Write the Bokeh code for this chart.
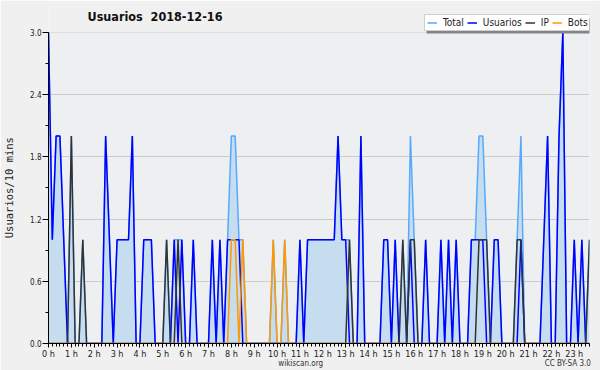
from bokeh.plotting import figure
from bokeh.models import (Range1d, FixedTicker, PrintfTickFormatter, Legend,
                          LegendItem, LinearAxis, Label, BoxAnnotation, ColumnDataSource)
from bokeh.embed import file_html
from bokeh.resources import INLINE

# 10-minute slots of the day, 0:00 .. 23:40
slots = list(range(143))
hour_ticks = slots[::6]
hour_labels = ["0 h", "1 h", "2 h", "3 h", "4 h", "5 h", "6 h", "7 h", "8 h", "9 h",
               "10 h", "11 h", "12 h", "13 h", "14 h", "15 h", "16 h", "17 h", "18 h",
               "19 h", "20 h", "21 h", "22 h", "23 h"]
y_ticks = [0.0, 0.6, 1.2, 1.8, 2.4, 3.0]
y_minor = [0.0, 0.3, 0.6, 0.9, 1.2, 1.5, 1.8, 2.1, 2.4, 2.7, 3.0]
footer_texts = ["wikiscan.org", "CC BY-SA 3.0"]

total = [3, 1, 2, 2, 1, 0,   2, 0, 0, 1, 0, 0,   0, 0, 0, 2, 1, 0,   1, 1, 1, 1, 2, 0,
         0, 1, 1, 1, 0, 0,   0, 1, 0, 1, 1, 1,   0, 0, 1, 0, 0, 0,   0, 1, 0, 1, 0, 1,
         2, 2, 1, 1, 0, 0,   0, 0, 0, 0, 0, 1,   0, 0, 1, 0, 0, 0,   1, 0, 1, 1, 1, 1,
         1, 1, 1, 1, 2, 1,   1, 1, 0, 0, 2, 0,   0, 0, 0, 0, 1, 1,   0, 1, 0, 1, 0, 2,
         1, 0, 0, 1, 0, 0,   0, 1, 0, 1, 0, 1,   0, 0, 0, 1, 1, 2,   2, 1, 0, 1, 1, 0,
         0, 0, 0, 1, 2, 0,   0, 0, 0, 0, 1, 2,   0, 0, 2, 3, 0, 0,   1, 0, 1, 0, 1]
usuarios = [3, 1, 2, 2, 1, 0,   0, 0, 0, 0, 0, 0,   0, 0, 0, 2, 1, 0,   1, 1, 1, 1, 2, 0,
            0, 1, 1, 1, 0, 0,   0, 0, 0, 1, 0, 1,   0, 0, 1, 0, 0, 0,   0, 1, 0, 1, 0, 1,
            1, 1, 1, 0, 0, 0,   0, 0, 0, 0, 0, 0,   0, 0, 0, 0, 0, 0,   1, 0, 1, 1, 1, 1,
            1, 1, 1, 1, 2, 1,   1, 0, 0, 0, 2, 0,   0, 0, 0, 0, 1, 1,   0, 1, 0, 0, 0, 1,
            0, 0, 0, 1, 0, 0,   0, 1, 0, 1, 0, 1,   0, 0, 0, 1, 1, 1,   1, 0, 0, 1, 1, 0,
            0, 0, 0, 0, 1, 0,   0, 0, 0, 0, 1, 2,   0, 0, 2, 3, 0, 0,   1, 0, 1, 0, 0]
ip = [0, 0, 0, 0, 0, 0,   2, 0, 0, 1, 0, 0,   0, 0, 0, 0, 0, 0,   0, 0, 0, 0, 0, 0,
      0, 0, 0, 0, 0, 0,   0, 1, 0, 0, 1, 0,   0, 0, 0, 0, 0, 0,   0, 0, 0, 0, 0, 0,
      0, 0, 0, 0, 0, 0,   0, 0, 0, 0, 0, 0,   0, 0, 0, 0, 0, 0,   0, 0, 0, 0, 0, 0,
      0, 0, 0, 0, 0, 0,   0, 1, 0, 0, 0, 0,   0, 0, 0, 0, 0, 0,   0, 0, 0, 1, 0, 1,
      1, 0, 0, 0, 0, 0,   0, 0, 0, 0, 0, 0,   0, 0, 0, 0, 0, 1,   1, 1, 0, 0, 0, 0,
      0, 0, 0, 1, 1, 0,   0, 0, 0, 0, 0, 0,   0, 0, 0, 0, 0, 0,   0, 0, 0, 0, 1]
bots = [0, 0, 0, 0, 0, 0,   0, 0, 0, 0, 0, 0,   0, 0, 0, 0, 0, 0,   0, 0, 0, 0, 0, 0,
        0, 0, 0, 0, 0, 0,   0, 0, 0, 0, 0, 0,   0, 0, 0, 0, 0, 0,   0, 0, 0, 0, 0, 0,
        1, 1, 0, 1, 0, 0,   0, 0, 0, 0, 0, 1,   0, 0, 1, 0, 0, 0,   0, 0, 0, 0, 0, 0,
        0, 0, 0, 0, 0, 0,   0, 0, 0, 0, 0, 0,   0, 0, 0, 0, 0, 0,   0, 0, 0, 0, 0, 0,
        0, 0, 0, 0, 0, 0,   0, 0, 0, 0, 0, 0,   0, 0, 0, 0, 0, 0,   0, 0, 0, 0, 0, 0,
        0, 0, 0, 0, 0, 0,   0, 0, 0, 0, 0, 0,   0, 0, 0, 0, 0, 0,   0, 0, 0, 0, 0]

FONT = "DejaVu Sans Condensed"
W, H = 600, 370
ML, MR, MT, MB = 46, 11, 6, 26
FH = H - MT - MB          # frame height in px
Y_TOP = 3.25              # headroom above 3.0 for title and legend

src = ColumnDataSource(dict(slot=slots, total=total, usuarios=usuarios, ip=ip, bots=bots))

p = figure(width=W, height=H, output_backend="svg", toolbar_location=None,
           x_range=Range1d(0, 142), y_range=Range1d(0, Y_TOP),
           min_border_left=ML, min_border_right=MR, min_border_top=MT, min_border_bottom=MB,
           background_fill_color="#eeeff1", border_fill_color="#f0f0f0")
p.outline_line_color = None

# area above the 3.0 line looks like the outer background
p.add_layout(BoxAnnotation(bottom=3.0, fill_color="#f0f0f0", fill_alpha=1.0,
                           line_color=None, level="underlay"))

p.varea(x="slot", y1=0, y2="total", source=src, fill_color="#c6ddf0")
r_total = p.line("slot", "total", source=src, line_color="#55aaff", line_width=1.5)
r_u = p.line("slot", "usuarios", source=src, line_color="#0000ff", line_width=1.5)
r_ip = p.line("slot", "ip", source=src, line_color="#333333", line_width=1.5)
r_b = p.line("slot", "bots", source=src, line_color="#ff9900", line_width=1.5)

xt = FixedTicker(ticks=hour_ticks, minor_ticks=slots)
p.xaxis.ticker = xt
p.xaxis.major_label_overrides = {t: lab for t, lab in zip(hour_ticks, hour_labels)}
p.xaxis.major_tick_out = 4
p.xaxis.major_tick_in = 0
p.xaxis.minor_tick_out = 3
p.xaxis.minor_tick_in = 0
p.xaxis.major_label_standoff = 1
p.xaxis.major_label_text_font_size = "9px"

yt = FixedTicker(ticks=y_ticks, minor_ticks=y_minor)
p.yaxis.ticker = yt
p.ygrid.ticker = yt
p.yaxis.bounds = (0, 3.0)
p.yaxis.formatter = PrintfTickFormatter(format="%.1f")
p.yaxis.major_tick_out = 6
p.yaxis.major_tick_in = 0
p.yaxis.minor_tick_out = 3
p.yaxis.minor_tick_in = 0
p.yaxis.major_label_standoff = 1
p.yaxis.major_label_text_font_size = "8px"
# trailing no-break spaces keep the visible label centred on the 0..3 span
p.yaxis.axis_label = "Usuarios/10 mins\u00a0\u00a0\u00a0\u00a0"
p.yaxis.axis_label_standoff = 12
p.yaxis.axis_label_text_font_style = "normal"
p.yaxis.axis_label_text_font_size = "10.5px"
p.yaxis.axis_label_text_font = "DejaVu Sans Mono"
p.yaxis.axis_label_text_color = "#222222"

for ax in (p.xaxis, p.yaxis):
    ax.axis_line_color = "#000000"
    ax.major_tick_line_color = "#000000"
    ax.minor_tick_line_color = "#000000"
    ax.major_label_text_font = FONT
    ax.major_label_text_color = "#222222"

p.xgrid.visible = False
p.ygrid.grid_line_color = "#cccccc"

# footer texts (wikiscan.org centred, licence at the right) as a bare axis row
footer_pos = [66.2, 136.3]
footer = LinearAxis(ticker=FixedTicker(ticks=footer_pos, minor_ticks=[]),
                    major_label_overrides={footer_pos[0]: footer_texts[0],
                                           footer_pos[1]: footer_texts[1]},
                    axis_line_color=None, major_tick_line_color=None,
                    minor_tick_line_color=None, major_tick_out=0, major_tick_in=0,
                    major_label_standoff=-3, major_label_text_font=FONT,
                    major_label_text_font_size="8px", major_label_text_color="#333333")
p.add_layout(footer, "below")

# title inside the headroom of the frame
p.add_layout(Label(x=39, y=FH - 3, x_units="screen", y_units="screen",
                   text="Usuarios\u00a0 2018-12-16", text_font=FONT, text_font_style="bold",
                   text_font_size="12.5px", text_color="#111111", text_baseline="top"))

# legend box with its drop shadow
LX, LY = 376, FH - 26     # legend bottom sits on the 3.0 line
p.add_layout(BoxAnnotation(left=LX + 2, right=LX + 171, bottom=LY - 2, top=LY + 13,
                           left_units="screen", right_units="screen",
                           bottom_units="screen", top_units="screen",
                           fill_color="#858585", fill_alpha=1.0, line_color=None))
legend = Legend(items=[LegendItem(label="Total", renderers=[r_total]),
                       LegendItem(label="Usuarios", renderers=[r_u]),
                       LegendItem(label="IP", renderers=[r_ip]),
                       LegendItem(label="Bots", renderers=[r_b])],
                orientation="horizontal", location=(LX, LY),
                label_text_font=FONT, label_text_font_size="10px",
                label_text_color="#222222", label_height=11, label_width=5,
                label_standoff=6, glyph_width=10, glyph_height=11, spacing=3,
                padding=2, margin=0,
                background_fill_color="#ffffff", background_fill_alpha=1.0,
                border_line_color="#a0a0a0", border_line_width=1)
p.add_layout(legend)

open("out.html", "w").write(file_html(p, INLINE))
